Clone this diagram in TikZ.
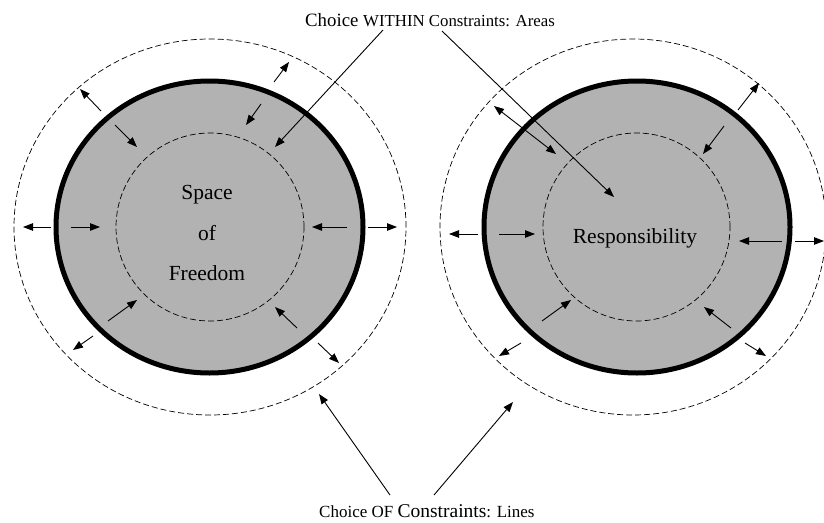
\documentclass[tikz,border=0pt]{standalone}
\usepackage{fontspec}
\setmainfont{Liberation Serif}
\usetikzlibrary{arrows.meta}
\definecolor{fillgray}{RGB}{178,178,178}
\begin{document}
\begin{tikzpicture}[x=1pt,y=-1pt,
  arr/.style={line width=0.9pt,-{Triangle[length=10pt,width=7.5pt]}},
  darr/.style={line width=0.9pt,{Triangle[length=10pt,width=7.5pt]}-{Triangle[length=10pt,width=7.5pt]}},
  dashring/.style={draw,dash pattern=on 6pt off 3pt,line width=0.7pt},
  solidring/.style={draw,fill=fillgray,line width=5pt},
  lbl/.style={inner sep=0pt,font=\fontsize{21.5}{24}\selectfont},
  captext/.style={inner sep=0pt,anchor=base west}
]
\useasboundingbox (0,0) rectangle (824,522);
% left figure
\draw[dashring] (210,227) ellipse [x radius=196pt, y radius=188pt];
\draw[solidring] (209.5,227) ellipse [x radius=153.5pt, y radius=146pt];
\draw[dashring] (210,227) ellipse [x radius=94pt, y radius=94pt];
% right figure
\draw[dashring] (633,227) ellipse [x radius=193pt, y radius=188pt];
\draw[solidring] (637,227) ellipse [x radius=153pt, y radius=146pt];
\draw[dashring] (636.5,227) ellipse [x radius=93.5pt, y radius=94pt];
% texts
\node[lbl] (sp) at (207,195) {Space};
\node[lbl] (of) at (207,233) {of};
\node[lbl] (fr) at (207,273) {Freedom};
\node[lbl] (re) at (635,238) {Responsibility};
\node[captext] (title) at (305,26) {\fontsize{18.8}{20}\selectfont Choice \fontsize{16.8}{20}\selectfont WITHIN Constraints: Areas};
\node[captext] (bottom) at (319,517) {\fontsize{17}{20}\selectfont Choice OF \fontsize{19.5}{20}\selectfont Constraints\fontsize{17}{20}\selectfont : Lines};
% left arrows
\coordinate (l1a) at (51,227);   \coordinate (l1b) at (23,227);
\coordinate (l2a) at (71,227);   \coordinate (l2b) at (100,227);
\coordinate (l3a) at (347,227);  \coordinate (l3b) at (312,227);
\coordinate (l4a) at (368,227);  \coordinate (l4b) at (397,227);
\coordinate (l5a) at (101,111);  \coordinate (l5b) at (80,89);
\coordinate (l6a) at (115,125);  \coordinate (l6b) at (137,147);
\coordinate (l7a) at (274,82);   \coordinate (l7b) at (289,62);
\coordinate (l8a) at (261,104);  \coordinate (l8b) at (246,125);
\coordinate (l9a) at (108,321);  \coordinate (l9b) at (137,300);
\coordinate (l10a) at (93,336);  \coordinate (l10b) at (73,350);
\coordinate (l11a) at (297,328); \coordinate (l11b) at (275,307);
\coordinate (l12a) at (318,343); \coordinate (l12b) at (339,363);
\foreach \i in {1,...,12} {\draw[arr] (l\i a) -- (l\i b);}
% right arrows
\coordinate (r1a) at (478,234);  \coordinate (r1b) at (449,234);
\coordinate (r2a) at (499,234);  \coordinate (r2b) at (535,234);
\coordinate (r3a) at (782,241);  \coordinate (r3b) at (739,241);
\coordinate (r4a) at (795,241);  \coordinate (r4b) at (824,241);
\coordinate (r5a) at (738,110);  \coordinate (r5b) at (759,83);
\coordinate (r6a) at (724,126);  \coordinate (r6b) at (703,154);
\coordinate (r7a) at (542,321);  \coordinate (r7b) at (571,300);
\coordinate (r8a) at (521,343);  \coordinate (r8b) at (499,356);
\coordinate (r9a) at (731,328);  \coordinate (r9b) at (704,307);
\coordinate (r10a) at (745,343); \coordinate (r10b) at (766,356);
\foreach \i in {1,...,10} {\draw[arr] (r\i a) -- (r\i b);}
\coordinate (dA) at (494,106); \coordinate (dB) at (556,154);
\draw[darr] (dA) -- (dB);
% label arrows
\coordinate (t1) at (383,30); \coordinate (t1e) at (275,147);
\coordinate (t2) at (442,31); \coordinate (t2e) at (614,197);
\draw[arr] (t1) -- (t1e);
\draw[arr] (t2) -- (t2e);
\coordinate (b1) at (390,495); \coordinate (b1e) at (319,394);
\coordinate (b2) at (434,495); \coordinate (b2e) at (513,402);
\draw[arr] (b1) -- (b1e);
\draw[arr] (b2) -- (b2e);
\end{tikzpicture}
\end{document}
